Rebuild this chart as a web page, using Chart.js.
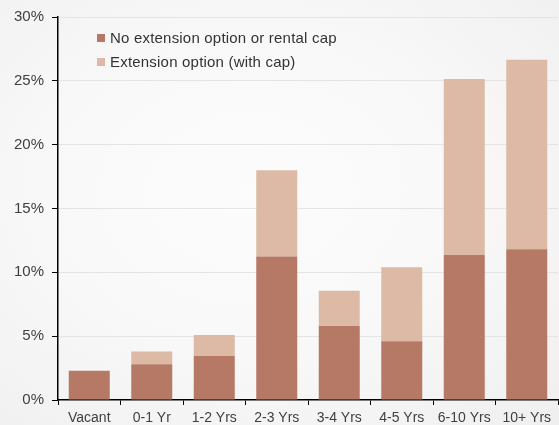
<!DOCTYPE html>
<html>
<head>
<meta charset="utf-8">
<script src="https://cdn.jsdelivr.net/npm/chart.js@4"></script>
<style>
  html, body { margin: 0; padding: 0; }
  body {
    width: 559px; height: 425px; overflow: hidden; position: relative;
    background: radial-gradient(ellipse at 45% 45%, #fcfcfc 0%, #f8f8f8 50%, #efefef 100%);
    font-family: "Liberation Sans", Arial, sans-serif;
  }
  #wrap { position: absolute; left: 0; top: 0; width: 559px; height: 425px; }
  #legend { position: absolute; left: 97px; top: 26px; font-size: 15px; letter-spacing: 0.2px; color: #333; }
  #legend div { height: 24px; line-height: 24px; display: flex; align-items: center; }
  #legend span.sw { display: inline-block; width: 8px; height: 8px; margin-right: 5px; }
</style>
</head>
<body>
<div id="wrap"><canvas id="c" width="559" height="425"></canvas></div>
<div id="legend"></div>
<script>
const categories = ["Vacant", "0-1 Yr", "1-2 Yrs", "2-3 Yrs", "3-4 Yrs", "4-5 Yrs", "6-10 Yrs", "10+ Yrs"];
const seriesNames = ["No extension option or rental cap", "Extension option (with cap)"];
const noExtension = [2.3, 2.8, 3.45, 11.25, 5.8, 4.6, 11.35, 11.8];
const extensionTotal = [2.3, 3.8, 5.1, 18.0, 8.55, 10.4, 25.15, 26.65];
const extensionWithCap = extensionTotal.map((t, i) => +(t - noExtension[i]).toFixed(2));
const yTicks = [0, 5, 10, 15, 20, 25, 30];

const colors = ["#b57965", "#dcbaa5"];

const legend = document.getElementById('legend');
seriesNames.forEach((n, i) => {
  const d = document.createElement('div');
  const s = document.createElement('span');
  s.className = 'sw'; s.style.background = colors[i];
  d.appendChild(s);
  d.appendChild(document.createTextNode(n));
  legend.appendChild(d);
});

new Chart(document.getElementById('c'), {
  type: 'bar',
  data: {
    labels: categories,
    datasets: [
      { label: seriesNames[0], data: noExtension, backgroundColor: colors[0], borderWidth: 0 },
      { label: seriesNames[1], data: extensionWithCap, backgroundColor: colors[1], borderWidth: 0 }
    ]
  },
  options: {
    responsive: false,
    animation: false,
    devicePixelRatio: 1,
    layout: { padding: { top: 16, right: 1, left: 0, bottom: 0 } },
    plugins: { legend: { display: false }, tooltip: { enabled: false } },
    datasets: { bar: { categoryPercentage: 0.82, barPercentage: 0.8 } },
    scales: {
      x: {
        stacked: true,
        grid: { display: true, drawOnChartArea: false, drawTicks: true, tickLength: 5, tickColor: '#000', offset: true },
        border: { display: true, color: '#000', width: 1.5 },
        ticks: { color: '#404040', font: { family: 'Liberation Sans', size: 14 }, padding: 5, maxRotation: 0, autoSkip: false },
        afterFit: s => { s.height = 25; }
      },
      y: {
        stacked: true,
        min: 0, max: 30,
        afterBuildTicks: s => { s.ticks = yTicks.map(v => ({ value: v })); },
        grid: { color: ctx => ctx.tick && ctx.tick.value === 0 ? 'rgba(0,0,0,0)' : '#e4e4e4', drawTicks: true, tickLength: 6, tickColor: '#000', lineWidth: 1 },
        border: { display: true, color: '#000', width: 1.5 },
        ticks: { color: '#404040', font: { family: 'Liberation Sans', size: 15 }, padding: 8, callback: v => v + '%' },
        afterFit: s => { s.width = 58; }
      }
    }
  }
});
</script>
</body>
</html>
